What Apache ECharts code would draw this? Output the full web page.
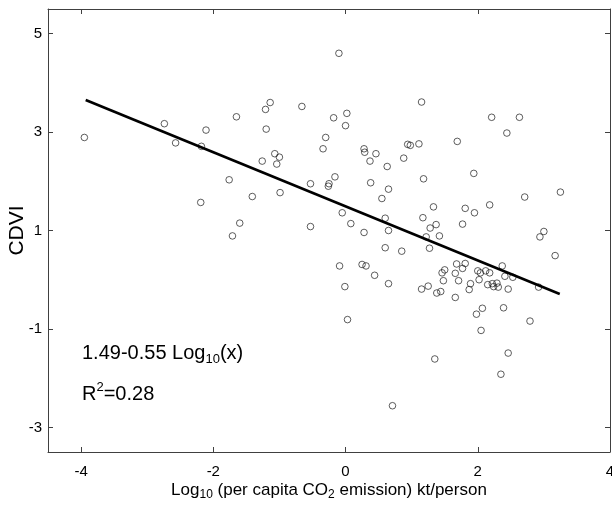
<!DOCTYPE html>
<html>
<head>
<meta charset="utf-8">
<script src="https://cdn.jsdelivr.net/npm/echarts@6/dist/echarts.min.js"></script>
<style>
html,body{margin:0;padding:0;background:#fff;}
#chart{width:612px;height:506px;}
</style>
</head>
<body>
<div id="chart"></div>
<script>
// Scatter data: log10 per-capita CO2 emission (x) vs CDVI (y)
var xValues = [
  -3.95,-2.74,-2.57,-2.11,-2.18,-1.65,-1.14,-1.21,-0.66,-1.20,
  -0.18,-0.30,-0.34,-1.07,-1.00,-1.26,-1.04,-1.76,-1.41,-0.99,
  -0.53,-0.26,-0.25,-0.16,-2.19,-1.60,-1.71,-0.53,-0.10,-0.05,
   0.08, 0.28, 0.38, 0.65, 0.55, 0.60, 0.65, 0.60, 0.85,-0.09,
   0.25, 0.31, 0.44, 0.65,-0.01, 0.28, 0.29, 0.46, 0.37, 0.63,
   0.88, 0.94, 0.98, 1.11, 0.02, 0.00, 1.15, 2.21, 2.63, 2.44,
   1.69, 1.94, 1.18, 2.71, 3.25, 2.18, 1.33, 1.81, 1.95, 1.17,
   1.28, 1.37, 1.77, 1.22, 1.42, 3.00, 2.94, 1.27, 3.17, 0.03,
   1.68, 1.81, 1.77, 1.50, 1.46, 1.66, 1.48, 1.71, 1.25, 1.15,
   1.44, 1.38, 1.66, 1.89, 1.87, 2.00, 2.02, 2.04, 2.12, 2.18,
   2.15, 2.22, 2.29, 2.24, 2.31, 2.37, 2.41, 2.53, 2.46, 2.92,
   1.98, 2.07, 2.39, 2.05, 2.79, 2.46, 1.35, 2.35, 0.71
];
var yValues = [
   2.89, 3.17, 2.78, 3.04, 2.71, 3.31, 3.60, 3.46, 3.52, 3.06,
   3.29, 2.89, 2.66, 2.56, 2.49, 2.41, 2.35, 2.03, 1.69, 1.77,
   1.95, 1.90, 1.95, 2.09, 1.57, 1.15, 0.89, 1.08, 4.60, 1.36,
   1.14, 0.96, 1.97, 1.84, 1.65, 1.25, 1.00, 0.65, 0.58, 0.28,
   0.31, 0.28, 0.09,-0.08,-0.14, 2.66, 2.59, 2.56, 2.41, 2.30,
   2.47, 2.75, 2.73, 2.76, 3.38, 3.13, 3.61, 3.30, 3.30, 2.98,
   2.81, 2.16, 2.05, 1.68, 1.78, 1.52, 1.48, 1.45, 1.36, 1.26,
   1.05, 1.12, 1.13, 0.87, 0.89, 0.98, 0.87, 0.64, 0.49,-0.81,
   0.32, 0.33, 0.23, 0.20, 0.14, 0.13,-0.02,-0.02,-0.13,-0.19,
  -0.24,-0.27,-0.36,-0.08,-0.20, 0.18, 0.00, 0.14, 0.18, 0.14,
  -0.10,-0.08,-0.07,-0.14,-0.15, 0.28, 0.07, 0.05,-0.19,-0.15,
  -0.70,-0.58,-0.57,-1.03,-0.84,-1.49,-1.61,-1.92,-2.56
];
// Regression line endpoints
var fitX = [-3.93, 3.24];
var fitY = [3.65, -0.29];
// Axis ticks
var xTicks = [-4, -2, 0, 2, 4];
var yTicks = [-3, -1, 1, 3, 5];
var xRange = [-4.5, 4];
var yRange = [-3.5, 5.5];

var scatterData = xValues.map(function (x, i) { return [x, yValues[i]]; });
var fitData = fitX.map(function (x, i) { return [x, fitY[i]]; });

var FONT = 'Liberation Sans, Arial, Helvetica, sans-serif';
var AXIS_COLOR = '#404040';

function mainAxis(type, pos, range, ticks, showLabel) {
  return {
    type: 'value',
    position: pos,
    min: range[0],
    max: range[1],
    splitLine: { show: false },
    axisLine: { show: true, onZero: false, lineStyle: { color: AXIS_COLOR, width: 1 } },
    axisTick: { show: true, inside: true, length: 5, customValues: ticks, lineStyle: { color: AXIS_COLOR, width: 1 } },
    axisLabel: {
      show: showLabel,
      customValues: ticks,
      color: '#000',
      fontFamily: FONT,
      fontSize: 15,
      margin: type === 'x' ? 12 : 6,
      showMinLabel: true,
      showMaxLabel: true,
      hideOverlap: false
    }
  };
}

var xBottom = mainAxis('x', 'bottom', xRange, xTicks, true);
xBottom.name = '{m|Log}{s|10}{m| (per capita CO}{s|2}{m| emission) kt/person}';
xBottom.nameLocation = 'middle';
xBottom.nameGap = 27;
xBottom.nameMoveOverlap = false;
xBottom.nameTextStyle = {
  rich: {
    m: { fontFamily: FONT, fontSize: 17, color: '#000', lineHeight: 22 },
    s: { fontFamily: FONT, fontSize: 12, color: '#000', lineHeight: 8, verticalAlign: 'bottom' }
  }
};
var xTop = mainAxis('x', 'top', xRange, xTicks, false);

var yLeft = mainAxis('y', 'left', yRange, yTicks, true);
yLeft.name = 'CDVI';
yLeft.nameLocation = 'middle';
yLeft.nameGap = 20;
yLeft.nameMoveOverlap = false;
yLeft.nameTextStyle = { fontFamily: FONT, fontSize: 21, color: '#000' };
var yRight = mainAxis('y', 'right', yRange, yTicks, false);

var chart = echarts.init(document.getElementById('chart'), null, { renderer: 'canvas' });
chart.setOption({
  animation: false,
  backgroundColor: '#fff',
  grid: { left: 48, right: 2, top: 9, bottom: 54, containLabel: false, outerBoundsMode: 'none' },
  xAxis: [xBottom, xTop],
  yAxis: [yLeft, yRight],
  series: [
    {
      type: 'scatter',
      xAxisIndex: 0, yAxisIndex: 0,
      data: scatterData,
      symbol: 'circle',
      symbolSize: 6.6,
      itemStyle: { color: 'rgba(255,255,255,0)', borderColor: '#1e1e1e', borderWidth: 0.9 },
      silent: true,
      z: 2
    },
    {
      type: 'line',
      xAxisIndex: 0, yAxisIndex: 0,
      data: fitData,
      showSymbol: false,
      symbol: 'none',
      lineStyle: { color: '#000', width: 2.6 },
      silent: true,
      z: 3
    }
  ],
  graphic: [
    {
      type: 'text',
      left: 82,
      top: 343,
      style: {
        text: '{m|1.49-0.55 Log}{s|10}{m|(x)}',
        rich: {
          m: { fontFamily: FONT, fontSize: 20, fill: '#000', lineHeight: 26 },
          s: { fontFamily: FONT, fontSize: 13, fill: '#000', lineHeight: 9, verticalAlign: 'bottom' }
        }
      }
    },
    {
      type: 'text',
      left: 82,
      top: 381,
      style: {
        text: '{m|R}{p|2}{m|=0.28}',
        rich: {
          m: { fontFamily: FONT, fontSize: 20, fill: '#000', lineHeight: 26 },
          p: { fontFamily: FONT, fontSize: 13, fill: '#000', lineHeight: 9, verticalAlign: 'top' }
        }
      }
    }
  ]
});
</script>
</body>
</html>
